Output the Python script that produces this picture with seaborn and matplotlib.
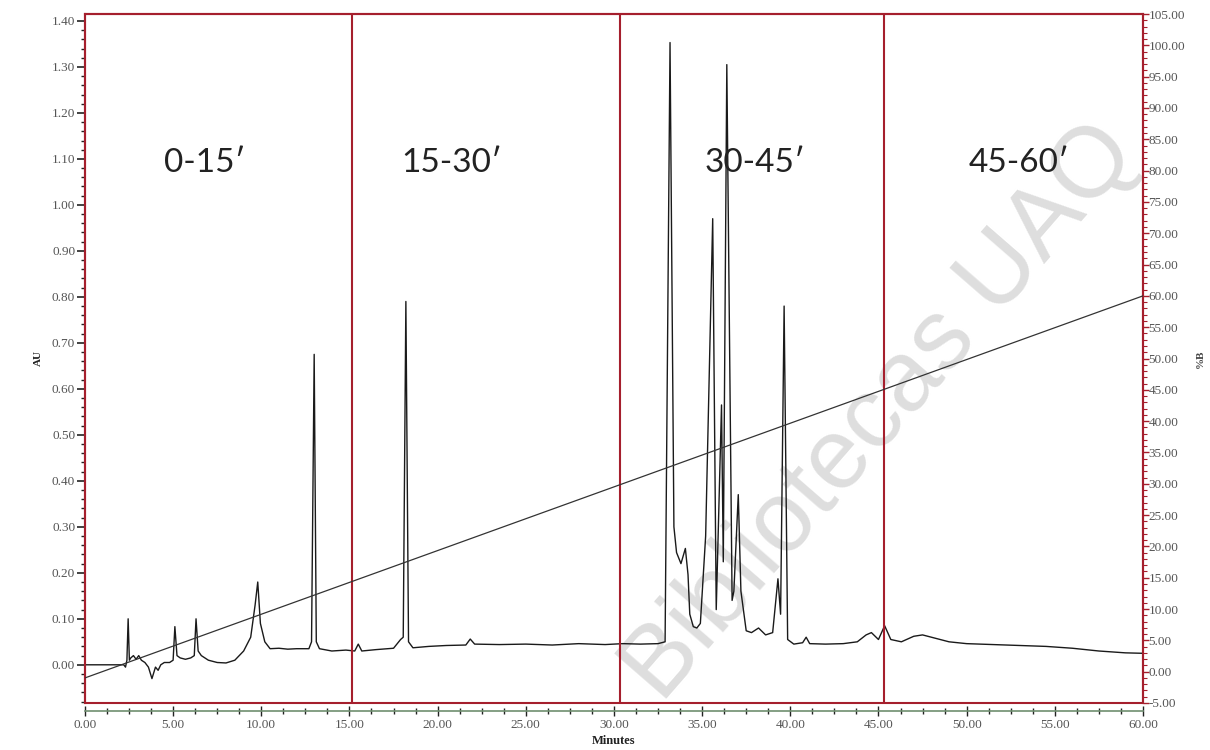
import seaborn as sns
import matplotlib.pyplot as plt
from matplotlib.ticker import MultipleLocator, FormatStrFormatter
from matplotlib.patches import Rectangle

# chromatogram (minutes, AU)
time_min = [0.0, 2.2, 2.3, 2.38, 2.45, 2.52, 2.6, 2.75, 2.9, 3.05, 3.2, 3.4, 3.6, 3.8, 4.0, 4.15,
            4.3, 4.5, 4.8, 5.0, 5.1, 5.22, 5.4, 5.7, 6.0, 6.2, 6.3, 6.42, 6.6, 7.0, 7.5, 8.0,
            8.5, 9.0, 9.4, 9.65, 9.8, 9.95, 10.2, 10.5, 11.0, 11.5, 12.0, 12.7, 12.85, 13.0,
            13.12, 13.3, 14.0, 14.8, 15.3, 15.5, 15.7, 16.5, 17.5, 17.9, 18.05, 18.2, 18.35,
            18.6, 19.5, 20.5, 21.6, 21.85, 22.1, 23.5, 25.0, 26.5, 28.0, 29.5, 30.5, 31.5,
            32.5, 32.9, 33.18, 33.4, 33.55, 33.8, 34.05, 34.2, 34.3, 34.5, 34.7, 34.9, 35.2,
            35.6, 35.8, 36.1, 36.2, 36.4, 36.7, 36.8, 37.05, 37.2, 37.5, 37.8, 38.2, 38.6,
            39.0, 39.3, 39.45, 39.65, 39.85, 40.2, 40.7, 40.9, 41.1, 42.0, 43.0, 43.8, 44.3,
            44.6, 45.0, 45.35, 45.7, 46.3, 47.0, 47.5, 48.2, 49.0, 50.0, 51.5, 53.0, 54.5,
            56.0, 57.5, 59.0, 60.0]
au = [0.0, 0.0, -0.005, 0.01, 0.10, 0.01, 0.015, 0.02, 0.012, 0.02, 0.01, 0.005, -0.005, -0.03,
      -0.005, -0.012, 0.0, 0.005, 0.005, 0.01, 0.083, 0.02, 0.015, 0.012, 0.015, 0.02, 0.10,
      0.03, 0.02, 0.01, 0.005, 0.004, 0.01, 0.03, 0.06, 0.13, 0.18, 0.09, 0.05, 0.035, 0.036,
      0.034, 0.035, 0.035, 0.05, 0.675, 0.05, 0.035, 0.03, 0.032, 0.03, 0.045, 0.03, 0.033,
      0.036, 0.055, 0.06, 0.79, 0.05, 0.037, 0.04, 0.042, 0.043, 0.056, 0.045, 0.044, 0.045,
      0.043, 0.046, 0.044, 0.046, 0.045, 0.046, 0.05, 1.353, 0.30, 0.244, 0.22, 0.253, 0.196,
      0.11, 0.083, 0.08, 0.09, 0.28, 0.97, 0.12, 0.565, 0.224, 1.305, 0.14, 0.16, 0.37, 0.16,
      0.074, 0.07, 0.08, 0.065, 0.07, 0.187, 0.11, 0.78, 0.055, 0.045, 0.048, 0.06, 0.046,
      0.045, 0.046, 0.05, 0.065, 0.07, 0.055, 0.085, 0.055, 0.05, 0.062, 0.065, 0.058, 0.05,
      0.046, 0.044, 0.042, 0.04, 0.036, 0.03, 0.026, 0.025]

# solvent gradient (% B)
grad_time = [0.0, 60.0]
grad_pct = [-1.0, 60.0]

# fraction windows
cut_times = [15.15, 30.35, 45.3]
window_labels = ["0-15\u2032", "15-30\u2032", "30-45\u2032", "45-60\u2032"]
window_label_x = [6.8, 20.8, 38.0, 53.0]

sns.set_style("white")
plt.rcParams['font.family'] = ['Liberation Serif', 'DejaVu Serif']

red = '#a51f2d'
tick_grey = '#555555'

fig = plt.figure(figsize=(12.1, 7.5), dpi=100)
ax = fig.add_axes([0.0702, 0.0627, 0.8744, 0.9186])

sns.lineplot(x=time_min, y=au, ax=ax, color='#1a1a1a', linewidth=1.0,
             sort=False, estimator=None, zorder=3)

ax.set_xlim(0, 60)
ax.set_ylim(-0.083, 1.415)
ax.xaxis.set_major_locator(MultipleLocator(5))
ax.xaxis.set_minor_locator(MultipleLocator(1.25))
ax.xaxis.set_major_formatter(FormatStrFormatter('%.2f'))
ax.yaxis.set_major_locator(MultipleLocator(0.1))
ax.yaxis.set_minor_locator(MultipleLocator(0.02))
ax.yaxis.set_major_formatter(FormatStrFormatter('%.2f'))

for s in ['left', 'top', 'right']:
    ax.spines[s].set_color(red)
    ax.spines[s].set_linewidth(1.5)
ax.spines['bottom'].set_position(('outward', 6))
ax.spines['bottom'].set_color('#6f8f6f')
ax.spines['bottom'].set_linewidth(1.2)
ax.add_patch(Rectangle((0, 0), 1, 1, transform=ax.transAxes, fill=False,
                       edgecolor=red, linewidth=1.5, clip_on=False, zorder=4))

ax.tick_params(axis='y', which='major', direction='out', length=6, width=1.2,
               color='#222222', labelsize=9.5, labelcolor=tick_grey, pad=1, left=True)
ax.tick_params(axis='y', which='minor', direction='out', length=3, width=1.0,
               color='#222222', left=True)
ax.tick_params(axis='x', which='major', direction='inout', length=7, width=1.0,
               color='#222222', labelsize=9.5, labelcolor=tick_grey, pad=2, bottom=True)
ax.tick_params(axis='x', which='minor', direction='inout', length=5, width=1.0,
               color='#222222', bottom=True)

for t in cut_times:
    ax.axvline(t, color=red, linewidth=1.5, zorder=4)

for lx, lab in zip(window_label_x, window_labels):
    ax.text(lx, 1.09, lab, ha='center', va='center', fontsize=24, color='#222222',
            family=['Lato', 'DejaVu Sans'], zorder=5)

ax.set_xlabel("Minutes", fontsize=9, fontweight='bold', color='#222222', labelpad=3)
ax.set_ylabel("AU", fontsize=8, fontweight='bold', color='#222222', labelpad=6)

ax2 = ax.twinx()
sns.lineplot(x=grad_time, y=grad_pct, ax=ax2, color='#333333', linewidth=0.9,
             sort=False, estimator=None)
ax2.set_ylim(-5, 105)
ax2.yaxis.set_major_locator(MultipleLocator(5))
ax2.yaxis.set_minor_locator(MultipleLocator(1))
ax2.yaxis.set_major_formatter(FormatStrFormatter('%.2f'))
ax2.tick_params(axis='y', which='major', direction='out', length=4, width=1.0, color=red,
                labelsize=9.5, labelcolor=tick_grey, pad=0)
ax2.tick_params(axis='y', which='minor', direction='out', length=3, width=0.8, color=red)
for s in ax2.spines.values():
    s.set_visible(False)
ax2.set_ylabel("%B", fontsize=8, fontweight='bold', color='#444444', labelpad=8)

# library watermark, kept under the window labels
ax.text(0.728, 0.45, "Bibliotecas UAQ", fontsize=72, color='#dedede', rotation=49,
        ha='center', va='center', family=['Liberation Sans', 'DejaVu Sans'],
        transform=fig.transFigure, clip_on=False, zorder=1)

plt.savefig("out.png", dpi=100)
